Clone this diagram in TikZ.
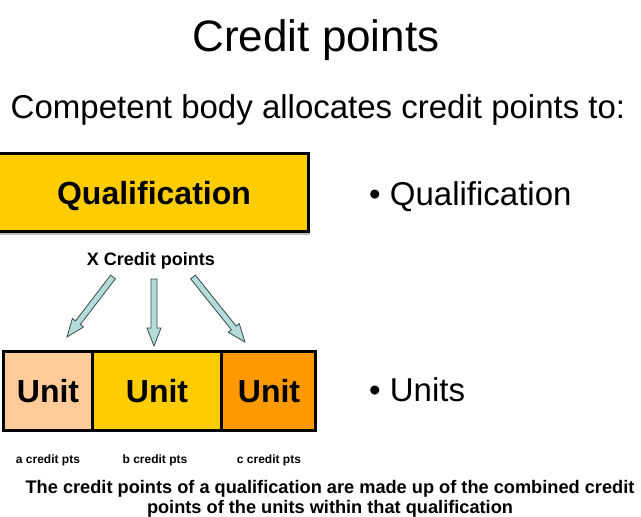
\documentclass[tikz,border=0pt]{standalone}
\usepackage{fontspec}
\setmainfont{Liberation Sans}
\usetikzlibrary{calc}
\definecolor{qualyellow}{HTML}{FFCC00}
\definecolor{unitpeach}{HTML}{FFCC99}
\definecolor{unitorange}{HTML}{FF9900}
\definecolor{arrowfill}{HTML}{B4DCDC}
\definecolor{arrowline}{HTML}{3A4A4A}
\newcommand\fsz[1]{\fontsize{#1}{#1}\selectfont}
\newcommand\blockarrow[2]{%
  \coordinate (bh) at ($(#2)!18pt!(#1)$);
  \draw[barrow] ($(#1)!3pt!90:(#2)$) -- ($(bh)!3pt!90:(#2)$) -- ($(bh)!7pt!90:(#2)$)
    -- (#2) -- ($(bh)!7pt!-90:(#2)$) -- ($(bh)!3pt!-90:(#2)$) -- ($(#1)!3pt!-90:(#2)$) -- cycle;}
\begin{document}
\begin{tikzpicture}[x=1pt,y=-1pt,
  txt/.style={inner sep=0pt, text depth=0pt},
  boxline/.style={draw=black, line width=3pt},
  barrow/.style={fill=arrowfill, draw=arrowline, line width=0.8pt, line join=miter},
  unittext/.style={txt, font=\fsz{32}\bfseries},
  bullettext/.style={txt, font=\fsz{33}, anchor=west},
  smalllabel/.style={txt, font=\fsz{12}\bfseries},
  bottomtext/.style={txt, font=\fsz{18.2}\bfseries}]
\useasboundingbox (0,0) rectangle (641,517);
\fill[white] (0,0) rectangle (641,517);

\node[txt, font=\fsz{44}, anchor=center] (title) at (316,36) {Credit points};
\node[txt, font=\fsz{33}, anchor=center] (sub) at (318,107) {Competent body allocates credit points to:};

% Qualification box
\fill[black!25] (-3,233) rectangle (310,235);
\draw[boxline, fill=qualyellow] (-3,153.5) rectangle (308.5,231.5);
\node[unittext] (qual) at (154,193) {Qualification};
\node[bullettext] (bq) at (369,194) {\textbullet\ Qualification};

\node[txt, font=\fsz{18}\bfseries] (xcp) at (151,259) {X Credit points};

% arrows
\coordinate (a1s) at (113,277);
\coordinate (a1t) at (67,337);
\coordinate (a2s) at (154,279);
\coordinate (a2t) at (154,346);
\coordinate (a3s) at (193,277);
\coordinate (a3t) at (245,342);
\blockarrow{a1s}{a1t}
\blockarrow{a2s}{a2t}
\blockarrow{a3s}{a3t}

% Unit boxes
\fill[unitpeach] (3.5,351.5) rectangle (92.5,430);
\fill[qualyellow] (92.5,351.5) rectangle (221.5,430);
\fill[unitorange] (221.5,351.5) rectangle (315,430);
\draw[boxline] (3.5,351.5) rectangle (315,430);
\draw[boxline] (92.5,351.5) -- (92.5,430);
\draw[boxline] (221.5,351.5) -- (221.5,430);
\node[unittext] (u1) at (48,391) {Unit};
\node[unittext] (u2) at (157,391) {Unit};
\node[unittext] (u3) at (269,391) {Unit};
\node[bullettext] (bu) at (369,390) {\textbullet\ Units};

\node[smalllabel] (la) at (48,459) {a credit pts};
\node[smalllabel] (lb) at (155,459) {b credit pts};
\node[smalllabel] (lc) at (269,459) {c credit pts};

\node[bottomtext] (bot1) at (330,487) {The credit points of a qualification are made up of the combined credit};
\node[bottomtext] (bot2) at (330,507) {points of the units within that qualification};
\end{tikzpicture}
\end{document}
